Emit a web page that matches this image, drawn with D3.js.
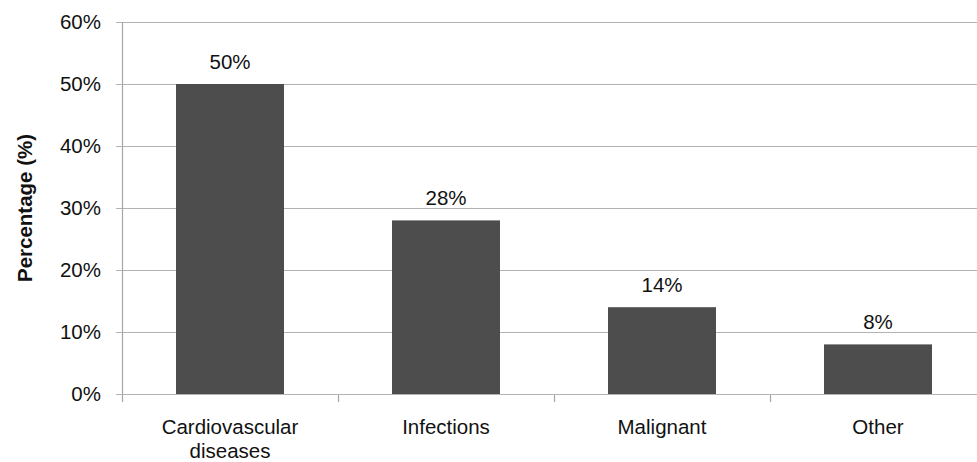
<!DOCTYPE html>
<html><head><meta charset="utf-8">
<script src="https://cdn.jsdelivr.net/npm/d3@7"></script>
<style>body{margin:0;background:#fff}svg{display:block;font-family:"Liberation Sans",Arial,sans-serif}</style>
</head><body><svg id="c" width="977" height="462"></svg>
<script>
const categories = [["Cardiovascular","diseases"],["Infections"],["Malignant"],["Other"]];
const values = [50, 28, 14, 8];
const yTicks = [0, 10, 20, 30, 40, 50, 60];

const svg = d3.select("#c");
const m = {left:122, top:22, bottom:394};
const x = d3.scaleBand().domain(d3.range(categories.length)).range([122, 986]).padding(0);
const y = d3.scaleLinear().domain([0, 60]).range([394, 22]);

// gridlines
svg.append("g").selectAll("line").data(yTicks).join("line")
  .attr("x1", 116).attr("x2", 977)
  .attr("y1", d => Math.round(y(d)) + 0.5).attr("y2", d => Math.round(y(d)) + 0.5)
  .attr("stroke", "#b3b3b3").attr("stroke-width", 1.2);

// y axis line
svg.append("line").attr("x1", 122.5).attr("x2", 122.5).attr("y1", y(60)).attr("y2", 402)
  .attr("stroke", "#a6a6a6").attr("stroke-width", 1.2);

// x ticks between categories
svg.append("g").selectAll("line").data(d3.range(1, categories.length)).join("line")
  .attr("x1", d => x(d) + 0.5).attr("x2", d => x(d) + 0.5)
  .attr("y1", 394).attr("y2", 402).attr("stroke", "#a6a6a6").attr("stroke-width", 1.2);

// bars
const bw = x.bandwidth() * 0.5;
svg.append("g").selectAll("rect").data(values).join("rect")
  .attr("x", (d, i) => x(i) + x.bandwidth() * 0.25)
  .attr("width", bw)
  .attr("y", d => y(d))
  .attr("height", d => y(0) - y(d))
  .attr("fill", "#4d4d4d");

// redraw baseline on top
svg.append("line").attr("x1", 122).attr("x2", 977).attr("y1", 394.5).attr("y2", 394.5)
  .attr("stroke", "#b3b3b3").attr("stroke-width", 1.2);

// y tick labels
svg.append("g").selectAll("text").data(yTicks).join("text")
  .attr("x", 101).attr("y", d => y(d) + 7)
  .attr("text-anchor", "end").attr("font-size", 20.5).attr("fill", "#111")
  .text(d => d + "%");

// value labels
svg.append("g").selectAll("text").data(values).join("text")
  .attr("x", (d, i) => x(i) + x.bandwidth() / 2)
  .attr("y", d => y(d) - 15)
  .attr("text-anchor", "middle").attr("font-size", 20.5).attr("fill", "#111")
  .text(d => d + "%");

// category labels
const cl = svg.append("g").selectAll("text").data(categories).join("text")
  .attr("x", (d, i) => x(i) + x.bandwidth() / 2)
  .attr("y", 434)
  .attr("text-anchor", "middle").attr("font-size", 20.5).attr("fill", "#111");
cl.selectAll("tspan").data(d => d).join("tspan")
  .attr("x", function() { return this.parentNode.getAttribute("x"); })
  .attr("dy", (d, i) => i === 0 ? 0 : 24)
  .text(d => d);

// y axis title
svg.append("text")
  .attr("transform", `translate(32,${(y(0) + y(60)) / 2}) rotate(-90)`)
  .attr("text-anchor", "middle").attr("font-size", 20.5).attr("font-weight", "bold").attr("fill", "#111")
  .text("Percentage (%)");
</script></body></html>
